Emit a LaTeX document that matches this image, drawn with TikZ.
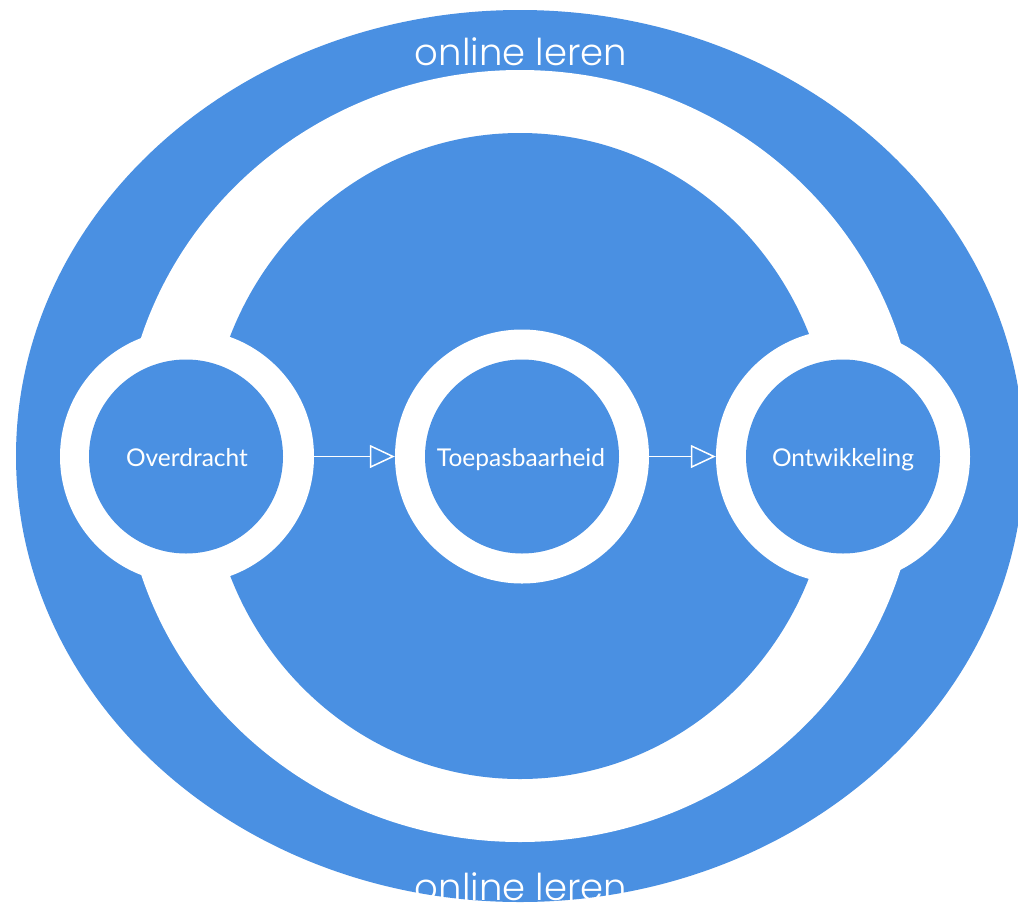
\documentclass[tikz,border=0pt]{standalone}
\usepackage{fontspec}
\setmainfont{Lato}
\newfontfamily\popfont{Poppins}[UprightFont=* Light]
\usetikzlibrary{arrows.meta}
\definecolor{cblue}{RGB}{74,144,226}
\begin{document}
\begin{tikzpicture}[x=1pt,y=-1pt,
  ringnode/.style={circle, fill=white, minimum size=254pt, inner sep=0pt},
  corenode/.style={circle, fill=cblue, minimum size=194pt, inner sep=0pt},
  labeltext/.style={text=white, font=\fontsize{24.5}{28}\selectfont, anchor=base, inner sep=0pt},
  bandtext/.style={text=white, font=\popfont\fontsize{37}{41}\selectfont, anchor=base, inner sep=0pt},
  flow/.style={draw=white, line width=1.5pt, -{Triangle[open, length=25pt, width=23pt]}}
]
\useasboundingbox (0,0) rectangle (1018,903);
\clip (0,0) rectangle (1018,903);
\fill[white] (0,0) rectangle (1018,903);
% bands
\fill[cblue] (520,456) ellipse [x radius=504, y radius=446];
\fill[white] (520,456) ellipse [x radius=398, y radius=386];
\fill[cblue] (520,456) ellipse [x radius=312, y radius=323];
% rings
\node[ringnode] (r1) at (187,456.5) {};
\node[ringnode] (r2) at (522,456.5) {};
\node[ringnode] (r3) at (843,456.5) {};
\node[corenode] (c1) at (186,456.5) {};
\node[corenode] (c2) at (522,456.5) {};
\node[corenode] (c3) at (843,456.5) {};
% labels
\node[labeltext] (l1) at (187,466) {Overdracht};
\node[labeltext] (l2) at (521,466) {Toepasbaarheid};
\node[labeltext] (l3) at (843,466) {Ontwikkeling};
\node[bandtext] (top) at (521,65) {online leren};
\node[bandtext] (bot) at (521,900) {online leren};
% arrows
\draw[flow] (r1.east) -- (r2.west);
\draw[flow] (r2.east) -- (r3.west);
\end{tikzpicture}
\end{document}
